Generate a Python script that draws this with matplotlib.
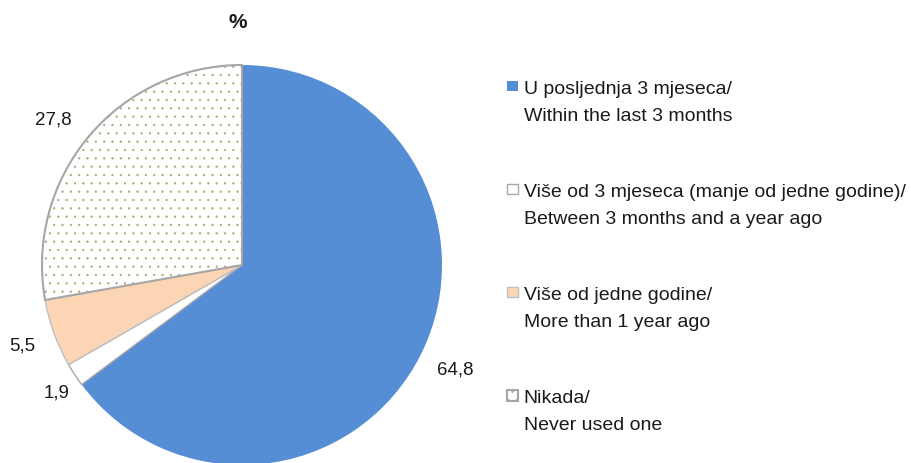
import numpy as np
import matplotlib
matplotlib.use("Agg")
import matplotlib.pyplot as plt
from matplotlib.patches import Rectangle, Wedge
from matplotlib.legend_handler import HandlerPatch

plt.rcParams['font.family'] = ['Liberation Sans', 'DejaVu Sans']
plt.rcParams['hatch.linewidth'] = 0.4

# podaci
kategorije = [
    "U posljednja 3 mjeseca/\nWithin the last 3 months",
    "Više od 3 mjeseca (manje od jedne godine)/\nBetween 3 months and a year ago",
    "Više od jedne godine/\nMore than 1 year ago",
    "Nikada/\nNever used one",
]
vrijednosti = [64.8, 1.9, 5.5, 27.8]
boje = ["#558ed5", "#ffffff", "#fcd5b5", "#ffffff"]
rubovi = ["none", "#a6a6a6", "#bfbfbf", "#a6a6a6"]
srafure = [None, None, None, ".."]

fig = plt.figure(figsize=(9.11, 4.63), dpi=100)
ax = fig.add_axes([42 / 911, (463 - 465) / 463, 400 / 911, 400 / 463])

oznake = [f"{v:.1f}".replace(".", ",") for v in vrijednosti]
wedges, texts = ax.pie(vrijednosti, labels=oznake, colors=boje, startangle=90,
                       counterclock=False, labeldistance=1.18,
                       textprops=dict(fontsize=13.5, color="#1a1a1a"))

for w, ec, h in zip(wedges, rubovi, srafure):
    w.set_edgecolor(ec)
    w.set_linewidth(1.5 if h else 1.0)
    if h:
        w.set_hatch(h)
        w._hatch_color = matplotlib.colors.to_rgba("#b3a273")

# pomaci oznaka (udaljenost, zakret kuta u stupnjevima)
udaljenosti = [1.19, 1.125, 1.17, 1.19]
zakreti = [0.4, 1.4, 0.3, 2.5]
for t, w, r, dk in zip(texts, wedges, udaljenosti, zakreti):
    kut = np.deg2rad((w.theta1 + w.theta2) / 2 + dk)
    t.set_position((r * np.cos(kut), r * np.sin(kut)))
    t.set_horizontalalignment("center")

ax.set_xlim(-1, 1)
ax.set_ylim(-1, 1)

fig.text(238 / 911, 1 - 23 / 463, "%", ha="center", va="center",
         fontsize=15, fontweight="bold", color="#1a1a1a")


def kvadrat(legend, orig_handle, xdescent, ydescent, width, height, fontsize):
    s = width
    return Rectangle((-xdescent, -ydescent + (height - s) / 2 + 12), s, s)


leg = fig.legend(wedges, kategorije, loc="upper left",
                 bbox_to_anchor=(507 / 911, 1 - 81 / 463), frameon=False,
                 fontsize=14, handlelength=0.55, handleheight=0.55,
                 handletextpad=0.3, labelspacing=3.03, borderpad=0, borderaxespad=0,
                 handler_map={Wedge: HandlerPatch(patch_func=kvadrat)})
for t in leg.get_texts():
    t.set_linespacing(1.78)
    t.set_color("#1a1a1a")

fig.savefig("out.png", dpi=100)
